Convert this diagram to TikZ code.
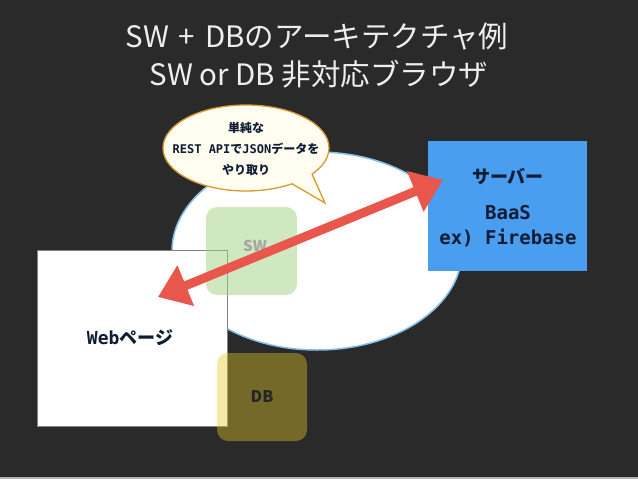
\documentclass[tikz,border=0pt]{standalone}
\usepackage{fontspec}
\setmainfont{Noto Sans CJK JP}
\newfontfamily\jpfont{Noto Sans CJK JP}
\newfontfamily\monofont{DejaVu Sans Mono}
\usetikzlibrary{shapes.geometric,arrows.meta}
\definecolor{bgdark}{RGB}{42,42,43}
\definecolor{titlecol}{RGB}{238,238,238}
\definecolor{navy}{RGB}{14,28,52}
\definecolor{ellline}{RGB}{130,190,235}
\definecolor{swgreen}{RGB}{160,210,128}
\definecolor{dbyellow}{RGB}{230,200,42}
\definecolor{srvblue}{RGB}{74,158,240}
\definecolor{arrowred}{RGB}{232,86,76}
\definecolor{bubbleline}{RGB}{218,152,48}
\definecolor{bubblefill}{RGB}{255,252,240}
\definecolor{pageline}{RGB}{130,130,130}
\tikzset{
  titletext/.style={text=titlecol, font=\jpfont\fontsize{29.5}{34}\selectfont, inner sep=0pt},
  labeltext/.style={text=navy, font=\bfseries\fontsize{18}{22}\selectfont, inner sep=0pt},
  bubbletext/.style={text=navy, font=\bfseries\fontsize{12}{14}\selectfont, inner sep=0pt},
  roundbox/.style={rounded corners=11pt, draw=none, inner sep=0pt},
}
\begin{document}
\begin{tikzpicture}[x=1pt,y=-1pt]
\useasboundingbox (0,0) rectangle (638,479);
\fill[bgdark] (0,0) rectangle (638,479);
\fill[gray!60] (0,477) rectangle (638,479);

% titles
\node[titletext] (t1) at (317,36) {SW\,\,+\,\,DBのアーキテクチャ例};
\node[titletext] (t2) at (319,74) {SW or DB 非対応ブラウザ};

% big ellipse
\node[ellipse, draw=ellline, line width=1.5pt, fill=white, minimum width=290pt, minimum height=198pt, inner sep=0pt] (scope) at (317,251) {};

% speech bubble
\node[ellipse, draw=bubbleline, line width=1.3pt, fill=bubblefill, minimum width=166pt, minimum height=86pt, inner sep=0pt] (bubble) at (246,148) {};
\coordinate (tailA) at (292,183.8);
\coordinate (tailTip) at (325,203);
\coordinate (tailB) at (312,174);
\fill[bubblefill] (tailA) -- (tailTip) -- (tailB) -- (296,172) -- cycle;
\draw[bubbleline, line width=1.3pt, line join=miter] (tailA) -- (tailTip) -- (tailB);
\node[bubbletext] (b1) at (246,128) {単純な};
\node[bubbletext] (b2) at (246,149) {{\monofont REST API}で{\monofont JSON}データを};
\node[bubbletext] (b3) at (246,170) {やり取り};

% web page
\node[draw=pageline, line width=0.8pt, fill=white, minimum width=190pt, minimum height=176pt, inner sep=0pt] (page) at (132,338) {};
\node[labeltext] (pagetext) at (130,338) {{\monofont Web}ページ};

% SW box
\node[roundbox, fill=swgreen, fill opacity=0.5, minimum width=91pt, minimum height=88pt] (sw) at (251.5,251) {};
\node[text=gray!70, font=\bfseries\fontsize{15}{18}\selectfont, inner sep=0pt] (swtext) at (255,246) {SW};

% DB box
\node[roundbox, fill=dbyellow, fill opacity=0.4, minimum width=90pt, minimum height=88pt] (db) at (262,397) {};
\node[text=black!85, font=\bfseries\fontsize{16}{19}\selectfont, inner sep=0pt] (dbtext) at (262,397) {DB};

% server box
\node[fill=srvblue, minimum width=159pt, minimum height=130pt, inner sep=0pt] (server) at (507.5,206) {};
\node[labeltext] (s1) at (508,176) {サーバー};
\node[labeltext, font=\monofont\bfseries\fontsize{19}{22}\selectfont] (s2) at (508,213) {BaaS};
\node[labeltext, font=\monofont\bfseries\fontsize{19}{22}\selectfont] (s3) at (508,238) {ex) Firebase};

% arrow
\coordinate (webtip) at (158,297);
\coordinate (srvtip) at (443,180);
\draw[arrowred, line width=9pt, {Triangle[length=30pt,width=42pt]}-{Triangle[length=30pt,width=42pt]}] (webtip) -- (srvtip);
\end{tikzpicture}
\end{document}
